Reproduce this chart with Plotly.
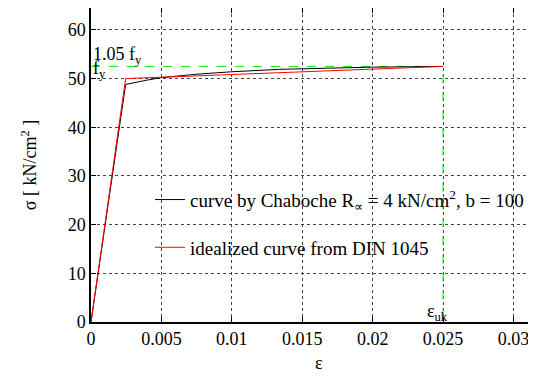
import plotly.graph_objects as go

# Data
eps_chaboche = [0.0, 0.00246, 0.004, 0.005, 0.0075, 0.01, 0.0134, 0.016, 0.02, 0.025]
sig_chaboche = [0.0, 48.8, 49.7, 50.2, 50.9, 51.4, 51.9, 52.1, 52.35, 52.5]
eps_din = [0.0, 0.00246, 0.025]
sig_din = [0.0, 50.0, 52.5]
eps_uk = 0.025
fy = 50.0
fy105 = 52.5
x_ticks = [0, 0.005, 0.01, 0.015, 0.02, 0.025, 0.03]
x_labels = ["0", "0.005", "0.01", "0.015", "0.02", "0.025", "0.03"]
y_ticks = [0, 10, 20, 30, 40, 50, 60]

FONT = "Liberation Serif"
FS = 18
GREEN = "#00ee00"

fig = go.Figure()
fig.add_trace(go.Scatter(x=[0, eps_uk, eps_uk], y=[fy105, fy105, 0], mode="lines",
                         line=dict(color=GREEN, width=1, dash="dash"),
                         showlegend=False, hoverinfo="skip"))
fig.add_trace(go.Scatter(x=eps_chaboche, y=sig_chaboche, mode="lines",
                         line=dict(color="black", width=1),
                         name="curve by Chaboche R<sub>∝</sub> = 4 kN/cm<sup>2</sup>, b = 100",
                         legendgroup="a"))
fig.add_trace(go.Scatter(x=eps_din, y=sig_din, mode="lines",
                         line=dict(color="red", width=1),
                         name="idealized curve from DIN 1045", legendgroup="b"))

fig.update_layout(
    width=528, height=373,
    margin=dict(l=83, r=0, t=0, b=59, autoexpand=False),
    paper_bgcolor="white", plot_bgcolor="white",
    font=dict(family=FONT, size=FS, color="black"),
    showlegend=True,
    legend=dict(x=0.1326, y=0.45, xanchor="left", yanchor="top",
                bgcolor="rgba(0,0,0,0)", tracegroupgap=20,
                font=dict(family=FONT, size=19), itemwidth=30),
    xaxis=dict(range=[0, 0.0316], tickvals=x_ticks, ticktext=x_labels,
               showgrid=True, gridcolor="#444", griddash="dot", gridwidth=1,
               zeroline=False, showline=True, linecolor="black", linewidth=1.5,
               mirror="ticks", ticks="inside", ticklen=5, tickcolor="black",
               automargin=False,
               tickfont=dict(family=FONT, size=FS)),
    yaxis=dict(range=[0, 64.5], tickvals=y_ticks,
               showgrid=True, gridcolor="#444", griddash="dot", gridwidth=1,
               zeroline=False, showline=True, linecolor="black", linewidth=1.5,
               ticks="inside", ticklen=5, tickcolor="black", automargin=False,
               tickfont=dict(family=FONT, size=FS),
               title=dict(text="σ [ kN/cm<sup>2</sup> ]", font=dict(family=FONT, size=FS),
                          standoff=26)),
)

fig.add_annotation(xref="paper", yref="paper", x=0.512, y=-0.13, yanchor="middle",
                   text="ε", showarrow=False, font=dict(family=FONT, size=FS))
fig.add_annotation(x=0, y=fy105, xanchor="left", yanchor="bottom", yshift=-3,
                   text="1.05 f<sub>y</sub>", showarrow=False, font=dict(family=FONT, size=FS))
fig.add_annotation(x=0, y=fy, xanchor="left", yanchor="bottom", yshift=-4,
                   text="f<sub>y</sub>", showarrow=False, font=dict(family=FONT, size=FS))
fig.add_annotation(x=eps_uk, y=0, xanchor="center", yanchor="bottom", xshift=-6, yshift=-4,
                   text="ε<sub>uk</sub>", showarrow=False, font=dict(family=FONT, size=FS))

fig.write_html("out.html")
